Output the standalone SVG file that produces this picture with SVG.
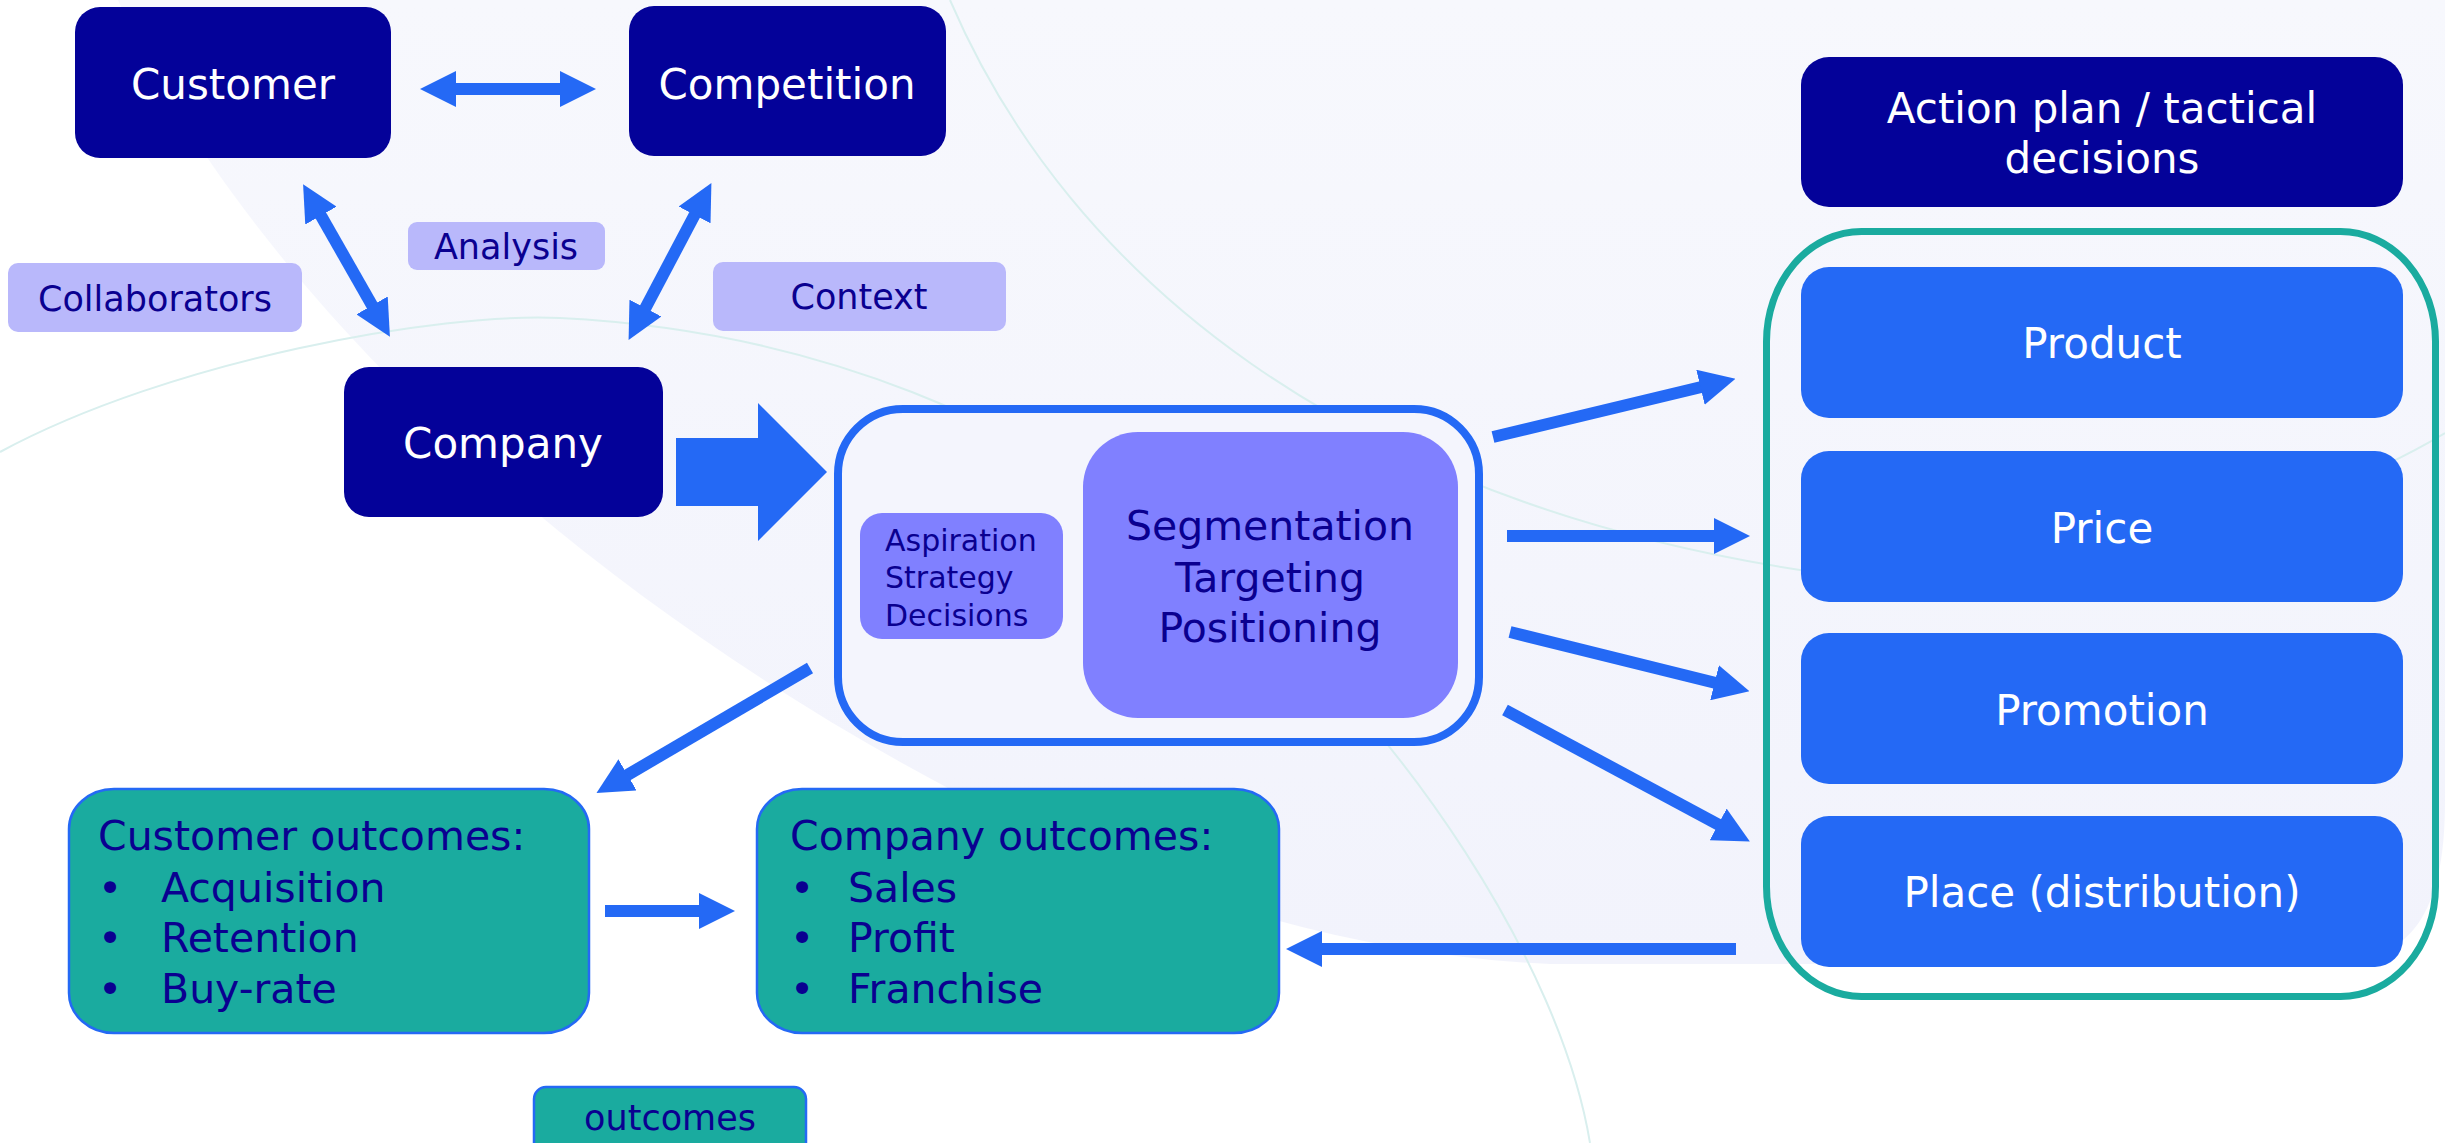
<svg xmlns="http://www.w3.org/2000/svg" width="2445" height="1143" viewBox="0 0 2445 1143">
<style>
text{font-family:"DejaVu Sans","Liberation Sans",sans-serif}
.navy{fill:#040299}
.wt{fill:#ffffff;font-size:42px;text-anchor:middle}
.lab{fill:#b9b8fb}
.lt{fill:#0a0090;font-size:35px;text-anchor:middle}
.blue{fill:#2469f5}
.dk{fill:#0a0090}
.ot{fill:#0a0090;font-size:41px}
.teal{fill:#1aab9f;stroke:#2469f5;stroke-width:2.5}
.conn{stroke:#2469f5;stroke-width:12;fill:none}
.deco{stroke:#d9efee;stroke-width:2;fill:none}
</style>
<defs>
<linearGradient id="bg" x1="0" y1="0" x2="0" y2="1">
<stop offset="0" stop-color="#f7f8fd"/>
<stop offset="1" stop-color="#f2f3fc"/>
</linearGradient>
<marker id="ah" viewBox="0 0 10 10" refX="5" refY="5" markerWidth="3" markerHeight="3" orient="auto-start-reverse" markerUnits="strokeWidth">
<path d="M0,0 L10,5 L0,10 z" fill="#2469f5"/>
</marker>
</defs>
<rect width="2445" height="1143" fill="#ffffff"/>
<g id="background">
<path d="M118,0 C230,250 520,560 946,787 C1150,895 1350,955 1550,964 L2330,964 C2420,962 2445,900 2445,800 L2445,0 Z" fill="url(#bg)"/>
<path class="deco" d="M0,452 C170,360 440,312 560,318 C800,330 1030,410 1250,600 C1400,730 1560,960 1590,1143"/>
<path class="deco" d="M950,0 C1070,280 1350,500 1800,570 C2000,610 2300,520 2445,433"/>
</g>
<g id="node-customer"><rect class="navy" x="75" y="7" width="316" height="151" rx="25"/><text class="wt" x="233" y="99">Customer</text></g>
<g id="node-competition"><rect class="navy" x="629" y="6" width="317" height="150" rx="25"/><text class="wt" x="787" y="99">Competition</text></g>
<g id="node-company"><rect class="navy" x="344" y="367" width="319" height="150" rx="25"/><text class="wt" x="503" y="458">Company</text></g>
<g id="label-analysis"><rect class="lab" x="408" y="222" width="197" height="48" rx="9"/><text class="lt" x="506" y="259">Analysis</text></g>
<g id="label-collaborators"><rect class="lab" x="8" y="263" width="294" height="69" rx="10"/><text class="lt" x="155" y="311">Collaborators</text></g>
<g id="label-context"><rect class="lab" x="713" y="262" width="293" height="69" rx="10"/><text class="lt" x="859" y="309">Context</text></g>
<g id="node-stp-container"><rect x="838" y="409" width="641" height="333" rx="65" fill="#f4f5fd" stroke="#2469f5" stroke-width="8"/></g>
<g id="node-aspiration"><rect x="860" y="513" width="203" height="126" rx="22" fill="#8080ff"/>
<text class="dk" font-size="30" x="885"><tspan x="885" y="551">Aspiration</tspan><tspan x="885" y="588">Strategy</tspan><tspan x="885" y="626">Decisions</tspan></text></g>
<g id="node-stp"><rect x="1083" y="432" width="375" height="286" rx="55" fill="#8080ff"/>
<text class="dk" font-size="41" text-anchor="middle"><tspan x="1270" y="540">Segmentation</tspan><tspan x="1270" y="592">Targeting</tspan><tspan x="1270" y="642">Positioning</tspan></text></g>
<g id="node-action-plan"><rect class="navy" x="1801" y="57" width="602" height="150" rx="28"/>
<text class="wt"><tspan x="2102" y="123">Action plan / tactical</tspan><tspan x="2102" y="173">decisions</tspan></text></g>
<g id="node-4p-container"><rect x="1766.5" y="231.5" width="669" height="765" rx="95" ry="110" fill="none" stroke="#1aab9f" stroke-width="7"/></g>
<g id="node-product"><rect class="blue" x="1801" y="267" width="602" height="151" rx="28"/><text class="wt" x="2102" y="358">Product</text></g>
<g id="node-price"><rect class="blue" x="1801" y="451" width="602" height="151" rx="28"/><text class="wt" x="2102" y="543">Price</text></g>
<g id="node-promotion"><rect class="blue" x="1801" y="633" width="602" height="151" rx="28"/><text class="wt" x="2102" y="725">Promotion</text></g>
<g id="node-place"><rect class="blue" x="1801" y="816" width="602" height="151" rx="28"/><text class="wt" x="2102" y="907">Place (distribution)</text></g>
<g id="node-customer-outcomes"><rect class="teal" x="69" y="789" width="520" height="244" rx="45" ry="40"/>
<text class="ot" x="98" y="850">Customer outcomes:</text>
<text class="ot" x="98" y="902">•</text><text class="ot" x="161" y="902">Acquisition</text>
<text class="ot" x="98" y="952">•</text><text class="ot" x="161" y="952">Retention</text>
<text class="ot" x="98" y="1003">•</text><text class="ot" x="161" y="1003">Buy-rate</text></g>
<g id="node-company-outcomes"><rect class="teal" x="757" y="789" width="522" height="244" rx="45" ry="40"/>
<text class="ot" x="790" y="850">Company outcomes:</text>
<text class="ot" x="790" y="902">•</text><text class="ot" x="848" y="902">Sales</text>
<text class="ot" x="790" y="952">•</text><text class="ot" x="848" y="952">Profit</text>
<text class="ot" x="790" y="1003">•</text><text class="ot" x="848" y="1003">Franchise</text></g>
<g id="label-outcomes"><rect class="teal" x="534" y="1087" width="272" height="72" rx="12"/><text class="lt" x="670" y="1130">outcomes</text></g>
<g id="connectors">
<polygon class="blue" points="676,438 758,438 758,403 827,472 758,541 758,506 676,506"/>
<path class="conn" d="M438,89 L578,89" marker-start="url(#ah)" marker-end="url(#ah)"/>
<path class="conn" d="M312,200 L381,321" stroke-width="11" marker-start="url(#ah)" marker-end="url(#ah)"/>
<path class="conn" d="M703,199 L637,324" stroke-width="11" marker-start="url(#ah)" marker-end="url(#ah)"/>
<path class="conn" d="M1493,437 L1718,383" stroke-width="11" marker-end="url(#ah)"/>
<path class="conn" d="M1507,536 L1732,536" marker-end="url(#ah)"/>
<path class="conn" d="M1510,632 L1732,687" stroke-width="11" marker-end="url(#ah)"/>
<path class="conn" d="M1505,710 L1734,833" stroke-width="11" marker-end="url(#ah)"/>
<path class="conn" d="M810,668 L612,784" stroke-width="11" marker-end="url(#ah)"/>
<path class="conn" d="M605,911 L717,911" marker-end="url(#ah)"/>
<path class="conn" d="M1736,949 L1304,949" marker-end="url(#ah)"/>
</g>
</svg>
